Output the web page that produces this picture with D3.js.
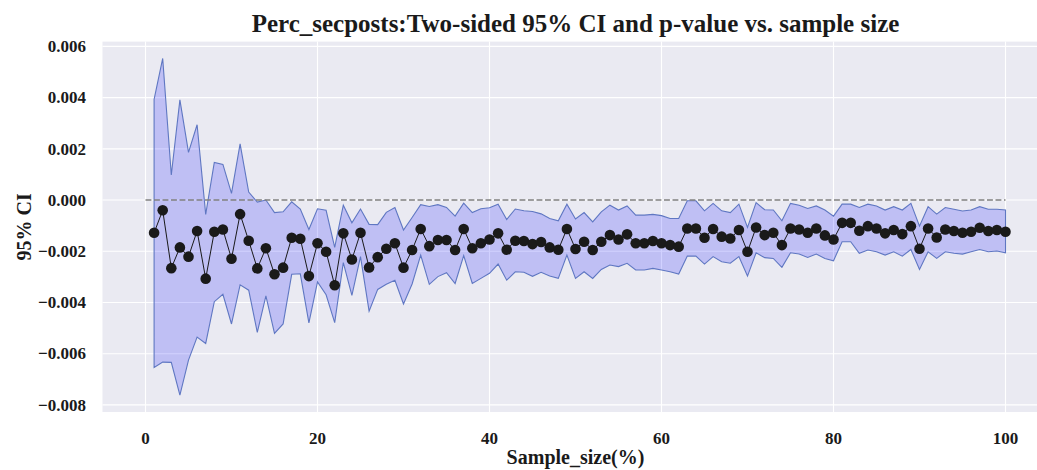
<!DOCTYPE html>
<html>
<head>
<meta charset="utf-8">
<script src="https://cdn.jsdelivr.net/npm/d3@7"></script>
<style>
  html, body { margin: 0; padding: 0; background: #ffffff; }
  svg { display: block; }
  text { font-family: "Liberation Serif", "Times New Roman", serif; font-weight: bold; fill: #1a1a1a; }
</style>
</head>
<body>
<svg id="chart" width="1037" height="470"></svg>
<script>
// Sample size (%) for each resample
const sampleSize = d3.range(1, 101);

// Mean difference estimate at each sample size
const meanDiff = [
  -0.00128, -0.00040, -0.00266, -0.00185, -0.00221, -0.00121, -0.00307, -0.00124, -0.00115, -0.00229,
  -0.00055, -0.00159, -0.00267, -0.00188, -0.00290, -0.00264, -0.00147, -0.00151, -0.00297, -0.00169,
  -0.00202, -0.00333, -0.00130, -0.00232, -0.00128, -0.00263, -0.00223, -0.00190, -0.00169, -0.00264,
  -0.00195, -0.00113, -0.00180, -0.00156, -0.00156, -0.00195, -0.00113, -0.00188, -0.00169, -0.00154,
  -0.00130, -0.00194, -0.00159, -0.00160, -0.00172, -0.00164, -0.00185, -0.00194, -0.00113, -0.00191,
  -0.00163, -0.00195, -0.00163, -0.00137, -0.00154, -0.00134, -0.00169, -0.00169, -0.00160, -0.00169,
  -0.00176, -0.00182, -0.00111, -0.00111, -0.00147, -0.00113, -0.00143, -0.00150, -0.00117, -0.00202,
  -0.00107, -0.00137, -0.00128, -0.00176, -0.00111, -0.00115, -0.00128, -0.00111, -0.00138, -0.00154,
  -0.00089, -0.00089, -0.00120, -0.00102, -0.00111, -0.00130, -0.00117, -0.00133, -0.00102, -0.00190,
  -0.00111, -0.00146, -0.00115, -0.00121, -0.00128, -0.00124, -0.00108, -0.00121, -0.00117, -0.00124
];

// Upper bound of the two-sided 95% CI
const ciUpper = [
   0.00393,  0.00553,  0.00098,  0.00391,  0.00186,  0.00294, -0.00056,  0.00147,  0.00139,  0.00026,
   0.00219,  0.00031, -0.00008,  0.00000, -0.00049, -0.00046, -0.00007, -0.00035, -0.00115, -0.00034,
  -0.00040, -0.00185, -0.00020, -0.00089, -0.00035, -0.00095, -0.00096, -0.00048, -0.00029, -0.00117,
  -0.00068, -0.00018, -0.00025, -0.00018, -0.00029, -0.00063, -0.00012, -0.00049, -0.00034, -0.00030,
  -0.00016, -0.00076, -0.00035, -0.00042, -0.00045, -0.00054, -0.00072, -0.00081, -0.00016, -0.00074,
  -0.00049, -0.00085, -0.00046, -0.00020, -0.00039, -0.00023, -0.00059, -0.00059, -0.00056, -0.00061,
  -0.00072, -0.00072, -0.00003, -0.00003, -0.00042, -0.00013, -0.00042, -0.00049, -0.00016, -0.00107,
  -0.00010, -0.00038, -0.00039, -0.00081, -0.00013, -0.00020, -0.00033, -0.00023, -0.00039, -0.00063,
  -0.00016, -0.00016, -0.00029, -0.00016, -0.00023, -0.00039, -0.00026, -0.00039, -0.00013, -0.00102,
  -0.00026, -0.00055, -0.00029, -0.00036, -0.00043, -0.00039, -0.00026, -0.00036, -0.00036, -0.00039
];

// Lower bound of the two-sided 95% CI
const ciLower = [
  -0.00654, -0.00633, -0.00634, -0.00762, -0.00625, -0.00535, -0.00560, -0.00397, -0.00368, -0.00484,
  -0.00331, -0.00352, -0.00517, -0.00374, -0.00521, -0.00484, -0.00290, -0.00288, -0.00480, -0.00320,
  -0.00370, -0.00479, -0.00244, -0.00372, -0.00221, -0.00434, -0.00349, -0.00329, -0.00313, -0.00406,
  -0.00328, -0.00215, -0.00329, -0.00299, -0.00284, -0.00326, -0.00217, -0.00326, -0.00306, -0.00286,
  -0.00250, -0.00313, -0.00280, -0.00282, -0.00298, -0.00282, -0.00297, -0.00306, -0.00215, -0.00306,
  -0.00280, -0.00306, -0.00271, -0.00254, -0.00260, -0.00247, -0.00273, -0.00273, -0.00267, -0.00273,
  -0.00280, -0.00289, -0.00219, -0.00219, -0.00250, -0.00221, -0.00241, -0.00247, -0.00221, -0.00297,
  -0.00206, -0.00225, -0.00228, -0.00263, -0.00206, -0.00211, -0.00224, -0.00211, -0.00228, -0.00237,
  -0.00163, -0.00163, -0.00208, -0.00195, -0.00202, -0.00215, -0.00202, -0.00219, -0.00193, -0.00271,
  -0.00202, -0.00228, -0.00202, -0.00208, -0.00211, -0.00202, -0.00193, -0.00202, -0.00199, -0.00206
];

// Reference line at zero, drawn across the full sample range
const refLine = { x0: 0, x1: 100, y: 0 };

const xTicks = [0, 20, 40, 60, 80, 100];
const yTicks = [-0.008, -0.006, -0.004, -0.002, 0, 0.002, 0.004, 0.006];

const titleText = "Perc_secposts:Two-sided 95% CI and p-value vs. sample size";
const xLabel = "Sample_size(%)";
const yLabel = "95% CI";

// ---- layout ----
const plot = { left: 102.5, right: 1048.5, top: 41.6, bottom: 412 };

// Axis limits padded by 5% of the data span on each side
function padded(lo, hi) {
  const m = (hi - lo) * 0.05;
  return [lo - m, hi + m];
}
const xExtent = padded(Math.min(refLine.x0, d3.min(sampleSize)), Math.max(refLine.x1, d3.max(sampleSize)));
const yExtent = padded(Math.min(refLine.y, d3.min(ciLower)), Math.max(refLine.y, d3.max(ciUpper)));

const x = d3.scaleLinear().domain(xExtent).range([plot.left, plot.right]);
const y = d3.scaleLinear().domain(yExtent).range([plot.bottom, plot.top]);

const svg = d3.select("#chart");

svg.append("rect").attr("width", 1037).attr("height", 470).attr("fill", "#ffffff");

// plot background
svg.append("rect")
  .attr("x", plot.left).attr("y", plot.top)
  .attr("width", plot.right - plot.left).attr("height", plot.bottom - plot.top)
  .attr("fill", "#eaeaf2");

// grid
const grid = svg.append("g").attr("stroke", "#ffffff").attr("stroke-width", 1.1);
grid.selectAll("line.gx").data(xTicks).join("line")
  .attr("x1", d => x(d)).attr("x2", d => x(d))
  .attr("y1", plot.top).attr("y2", plot.bottom);
grid.selectAll("line.gy").data(yTicks).join("line")
  .attr("x1", plot.left).attr("x2", plot.right)
  .attr("y1", d => y(d)).attr("y2", d => y(d));

// confidence band
const rows = sampleSize.map((s, i) => ({ s, m: meanDiff[i], lo: ciLower[i], hi: ciUpper[i] }));
const band = d3.area()
  .x(d => x(d.s))
  .y0(d => y(d.lo))
  .y1(d => y(d.hi));
svg.append("path")
  .datum(rows)
  .attr("d", d => band(d) + "Z")
  .attr("fill", "#0000ff")
  .attr("fill-opacity", 0.18)
  .attr("stroke", "#5f77c2")
  .attr("stroke-width", 1.1)
  .attr("stroke-linejoin", "miter");

// zero reference
svg.append("line")
  .attr("x1", x(refLine.x0)).attr("x2", x(refLine.x1))
  .attr("y1", y(refLine.y)).attr("y2", y(refLine.y))
  .attr("stroke", "#7f7f7f")
  .attr("stroke-width", 1.6)
  .attr("stroke-dasharray", "5.9,2.6");

// mean estimate line + markers
svg.append("path")
  .datum(rows)
  .attr("d", d3.line().x(d => x(d.s)).y(d => y(d.m)))
  .attr("fill", "none")
  .attr("stroke", "#1a1a1a")
  .attr("stroke-width", 1);
svg.append("g").selectAll("circle").data(rows).join("circle")
  .attr("cx", d => x(d.s)).attr("cy", d => y(d.m))
  .attr("r", 5.3)
  .attr("fill", "#1a1a1a");

// tick labels
const fmt = d3.format(".3f");
svg.append("g").selectAll("text").data(yTicks).join("text")
  .attr("x", 86).attr("y", d => y(d)).attr("dy", "0.34em")
  .attr("text-anchor", "end")
  .attr("font-size", 17)
  .text(d => fmt(d));
svg.append("g").selectAll("text").data(xTicks).join("text")
  .attr("x", d => x(d)).attr("y", 444)
  .attr("text-anchor", "middle")
  .attr("font-size", 17)
  .text(d => d);

// axis labels and title
svg.append("text")
  .attr("x", (plot.left + plot.right) / 2).attr("y", 464)
  .attr("text-anchor", "middle").attr("font-size", 20)
  .text(xLabel);
svg.append("text")
  .attr("transform", `translate(31,${(plot.top + plot.bottom) / 2}) rotate(-90)`)
  .attr("text-anchor", "middle").attr("font-size", 20)
  .text(yLabel);
svg.append("text")
  .attr("x", (plot.left + plot.right) / 2).attr("y", 31.5)
  .attr("text-anchor", "middle").attr("font-size", 25)
  .text(titleText);
</script>
</body>
</html>
